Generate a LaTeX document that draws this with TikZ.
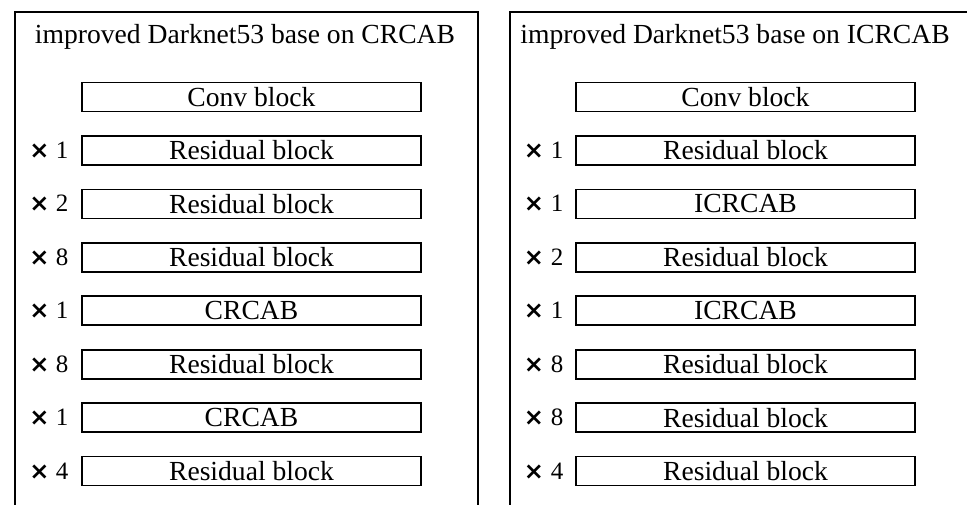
\documentclass[tikz,border=0pt]{standalone}
\usepackage{fontspec}
\setmainfont{Liberation Serif}
\newfontfamily\symfont{DejaVu Sans}
\begin{document}
\begin{tikzpicture}[x=1pt,y=-1pt,
  panel/.style={draw=black,line width=1.7pt},
  blockbox/.style={draw=black,line width=1.7pt,minimum width=339pt,minimum height=29pt,inner sep=0pt,font=\fontsize{27.6}{30}\selectfont},
  titletext/.style={inner sep=0pt,font=\fontsize{27.6}{30}\selectfont},
  timessign/.style={inner sep=0pt,anchor=base,font=\symfont\bfseries\fontsize{24}{26}\selectfont},
  countlabel/.style={inner sep=0pt,anchor=base,font=\fontsize{25}{28}\selectfont}]
\useasboundingbox (0,0) rectangle (967,504);
\clip (0,0) rectangle (967,504);
\fill[white] (0,0) rectangle (967,504);
% panels
\node[panel,anchor=north west,minimum width=463pt,minimum height=540pt,inner sep=0pt] (PL) at (14,11) {};
\node[panel,anchor=north west,minimum width=500pt,minimum height=540pt,inner sep=0pt] (PR) at (509,11) {};
\node[titletext] (TL) at (245,37) {improved Darknet53 base on CRCAB};
\node[titletext] (TR) at (735,37) {improved Darknet53 base on ICRCAB};
% left column
\node[blockbox] (L0) at (251.5,97) {Conv block};
\foreach \i/\t/\m in {1/Residual block/1,2/Residual block/2,3/Residual block/8,4/CRCAB/1,5/Residual block/8,6/CRCAB/1,7/Residual block/4}{
  \node[blockbox] (L\i) at (251.5,97+53.43*\i) {\t};
  \node[timessign] (LX\i) at (39.5,97+53.43*\i+8) {×};
  \node[countlabel] (LM\i) at (62,97+53.43*\i+8) {\m};
}
% right column
\node[blockbox] (R0) at (745.5,97) {Conv block};
\foreach \i/\t/\m in {1/Residual block/1,2/ICRCAB/1,3/Residual block/2,4/ICRCAB/1,5/Residual block/8,6/Residual block/8,7/Residual block/4}{
  \node[blockbox] (R\i) at (745.5,97+53.43*\i) {\t};
  \node[timessign] (RX\i) at (534,97+53.43*\i+8) {×};
  \node[countlabel] (RM\i) at (557,97+53.43*\i+8) {\m};
}
\end{tikzpicture}
\end{document}
